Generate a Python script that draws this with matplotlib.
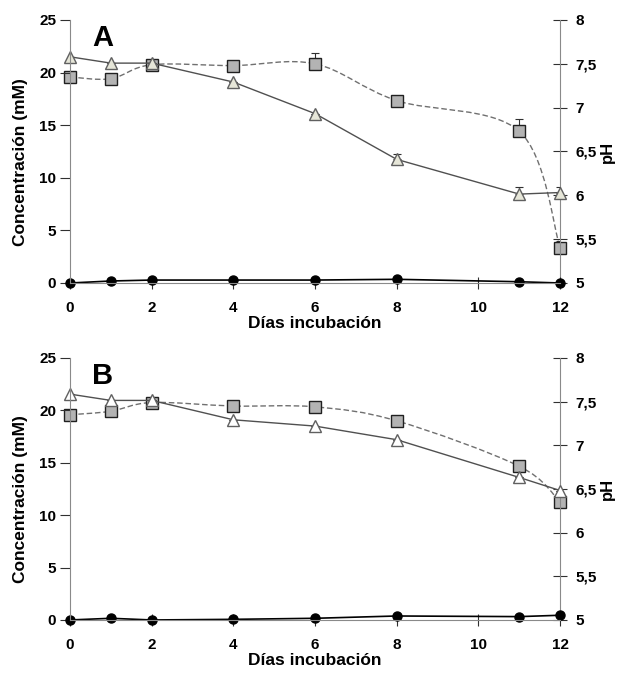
import numpy as np
import matplotlib
matplotlib.use("Agg")
import matplotlib.pyplot as plt
from matplotlib.path import Path
from matplotlib.patches import PathPatch

plt.rcParams['font.family'] = ['Liberation Sans', 'DejaVu Sans']
plt.rcParams['font.weight'] = 'bold'

dias = [0, 1, 2, 4, 6, 8, 11, 12]

# panel A
tri_a = [21.5, 20.9, 20.9, 19.1, 16.1, 11.75, 8.45, 8.6]
tri_a_err = [0, 0, 0, 0, 0, 0.55, 0.7, 0.55]
ph_a = [7.35, 7.33, 7.49, 7.48, 7.50, 7.08, 6.73, 5.40]
ph_a_err = [0, 0, 0, 0, 0.12, 0, 0.14, 0.08]
circ_a = [0.0, 0.19, 0.28, 0.28, 0.28, 0.35, 0.12, 0.0]

# panel B
tri_b = [21.55, 20.95, 20.95, 19.1, 18.5, 17.2, 13.6, 12.35]
tri_b_err = [0, 0, 0, 0, 0, 0, 0, 0]
ph_b = [7.35, 7.39, 7.49, 7.45, 7.44, 7.28, 6.76, 6.35]
ph_b_err = [0, 0, 0, 0.03, 0, 0, 0, 0]
circ_b = [0.0, 0.16, 0.0, 0.06, 0.16, 0.38, 0.32, 0.45]

conc_ticks = [0, 5, 10, 15, 20, 25]
ph_ticks = [5, 5.5, 6, 6.5, 7, 7.5, 8]
ph_labels = ["5", "5,5", "6", "6,5", "7", "7,5", "8"]
x_ticks = [0, 2, 4, 6, 8, 10, 12]


def suave(x, y):
    # curva suavizada tipo Excel (bezier cubica)
    x = np.asarray(x, float)
    y = np.asarray(y, float)
    n = len(x)
    verts = [(x[0], y[0])]
    codes = [Path.MOVETO]
    for i in range(n - 1):
        xa, ya = (x[i - 1], y[i - 1]) if i > 0 else (x[i], y[i])
        xb, yb = (x[i + 2], y[i + 2]) if i + 2 < n else (x[i + 1], y[i + 1])
        c1 = (x[i] + (x[i + 1] - xa) / 6, y[i] + (y[i + 1] - ya) / 6)
        c2 = (x[i + 1] - (xb - x[i]) / 6, y[i + 1] - (yb - y[i]) / 6)
        verts += [c1, c2, (x[i + 1], y[i + 1])]
        codes += [Path.CURVE4] * 3
    return Path(verts, codes)


def panel(fig, rect, letra, tri, tri_err, tri_fill, ph, ph_err, circ):
    ax_ph = fig.add_axes(rect)
    ax = fig.add_axes(rect, sharex=ax_ph)
    ax.patch.set_visible(False)

    # pH (eje derecho)
    ax_ph.add_patch(PathPatch(suave(dias, ph), fill=False, edgecolor='#707070',
                              linestyle=(0, (4, 2)), lw=1.0, transform=ax_ph.transData))
    ax_ph.errorbar(dias, ph, yerr=[np.zeros(len(ph)), ph_err], fmt='none',
                   ecolor='#303030', elinewidth=0.8, capsize=3, capthick=0.8)
    ax_ph.plot(dias, ph, ls='none', marker='s', ms=8, mfc='#b3b3b3', mec='#202020',
               mew=1.0, clip_on=False)
    ax_ph.set_ylim(5, 8)
    ax_ph.set_yticks(ph_ticks)
    ax_ph.set_yticklabels(ph_labels)
    ax_ph.yaxis.tick_right()
    ax_ph.yaxis.set_label_position('right')
    ax_ph.set_ylabel('pH', fontsize=12, fontweight='bold', labelpad=2)
    ax_ph.tick_params(axis='y', direction='inout', length=10, pad=6, labelsize=11,
                      color='#303030')
    ax_ph.tick_params(axis='x', bottom=False, labelbottom=False)
    for s in ['top', 'left', 'bottom']:
        ax_ph.spines[s].set_visible(False)
    ax_ph.spines['right'].set_color('#8a8a8a')

    # concentraciones (eje izquierdo)
    ax.errorbar(dias, tri, yerr=[np.zeros(len(tri)), tri_err], fmt='none',
                ecolor='#303030', elinewidth=0.8, capsize=3, capthick=0.8)
    ax.plot(dias, tri, color='#505050', lw=1.0, marker='^', ms=8, mfc=tri_fill,
            mec='#606060', mew=1.0, clip_on=False)
    ax.plot(dias, circ, color='black', lw=1.2, marker='o', ms=6.5, mfc='black',
            mec='black', clip_on=False)
    ax.set_xlim(0, 12)
    ax.set_ylim(0, 25)
    ax.set_xticks(x_ticks)
    ax.set_yticks(conc_ticks)
    ax.tick_params(axis='y', direction='out', length=7, pad=3, labelsize=11,
                   color='#303030')
    ax.tick_params(axis='x', direction='inout', length=8, pad=9, labelsize=11,
                   color='#303030')
    for s in ['top', 'right']:
        ax.spines[s].set_visible(False)
    ax.spines['left'].set_color('#8a8a8a')
    ax.spines['bottom'].set_color('#8a8a8a')
    ax.set_ylabel('Concentración (mM)', fontsize=12.5, fontweight='bold')
    ax.yaxis.set_label_coords(-0.086, 0.46)
    ax.set_xlabel('Días incubación', fontsize=12.5, fontweight='bold', labelpad=1)
    ax.text(0.045, 0.93, letra, transform=ax.transAxes, fontsize=21,
            fontweight='bold', va='center', ha='left')
    return ax


fig = plt.figure(figsize=(6.18, 6.73), dpi=100)
panel(fig, [0.1133, 0.5795, 0.793, 0.3908], 'A', tri_a, tri_a_err, '#e6e6d8',
      ph_a, ph_a_err, circ_a)
panel(fig, [0.1133, 0.0788, 0.793, 0.3893], 'B', tri_b, tri_b_err, 'white',
      ph_b, ph_b_err, circ_b)

fig.savefig('out.png', dpi=100, facecolor='white')
